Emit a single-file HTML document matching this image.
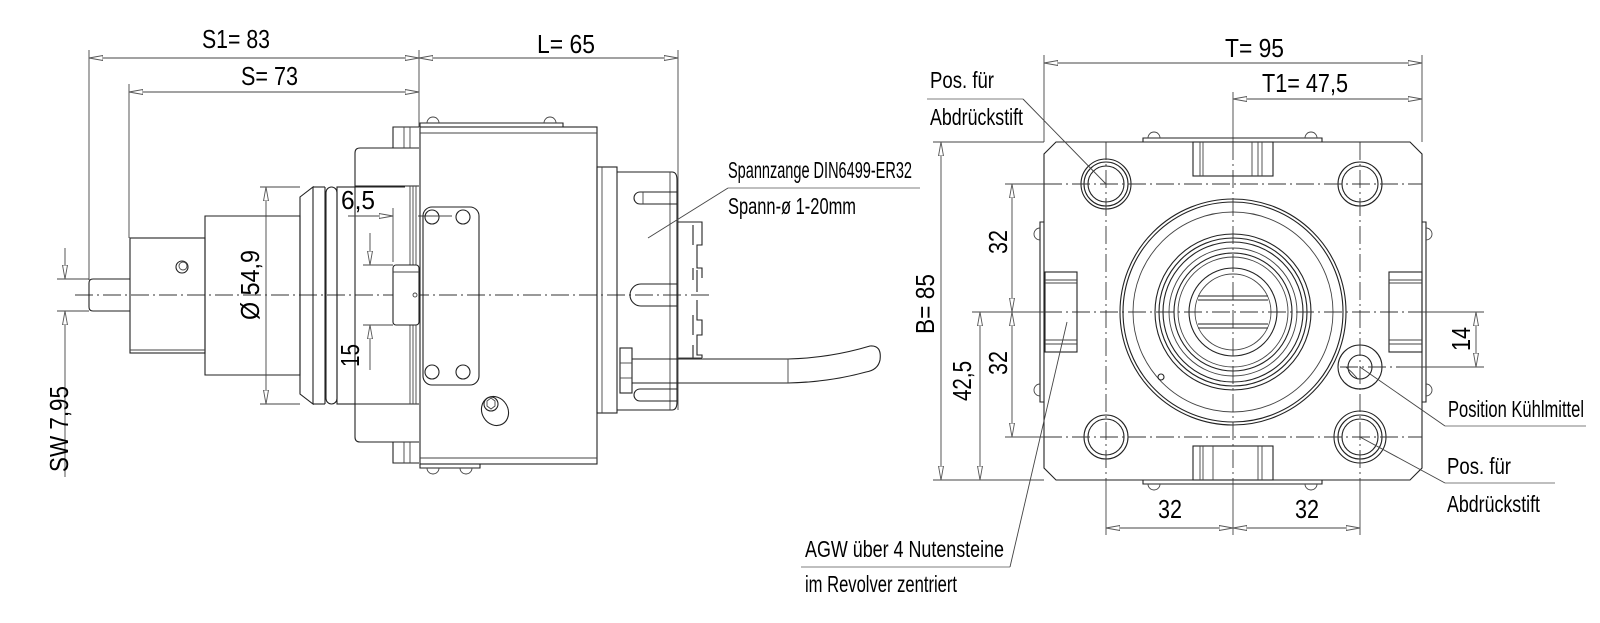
<!DOCTYPE html>
<html><head><meta charset="utf-8"><style>
html,body{margin:0;padding:0;background:#fff;}
svg{display:block;}
text{font-family:"Liberation Sans",Arial,sans-serif;fill:#000;}
.l{fill:none;stroke:#222;stroke-width:1.1;}
.t{fill:none;stroke:#444;stroke-width:0.9;}
.d{fill:none;stroke:#444;stroke-width:0.9;marker-start:url(#ar);marker-end:url(#ar);}
.c{fill:none;stroke:#333;stroke-width:0.9;stroke-dasharray:18 4 2 4;}
.u{fill:none;stroke:#999;stroke-width:1.3;}
</style></head><body>
<svg width="1600" height="623" viewBox="0 0 1600 623" xmlns="http://www.w3.org/2000/svg">
<defs>
<marker id="ar" viewBox="0 0 14 6" refX="14" refY="3" markerWidth="14" markerHeight="6" markerUnits="userSpaceOnUse" orient="auto-start-reverse">
<path d="M0,0.5 L14,3 L0,5.5 Z" fill="#fff" stroke="#555" stroke-width="0.9"/>
</marker>
</defs>

<!-- ================= LEFT VIEW ================= -->
<line class="t" x1="89" y1="50" x2="89" y2="280"/>
<line class="t" x1="129" y1="84" x2="129" y2="238"/>
<line class="t" x1="419" y1="50" x2="419" y2="127"/>
<line class="t" x1="678" y1="50" x2="678" y2="410"/>
<line class="d" x1="89" y1="58" x2="419" y2="58"/>
<line class="d" x1="129" y1="92" x2="419" y2="92"/>
<line class="d" x1="419" y1="58" x2="678" y2="58"/>
<text x="202" y="48" font-size="26" textLength="68" lengthAdjust="spacingAndGlyphs">S1= 83</text>
<text x="241" y="85" font-size="26" textLength="57" lengthAdjust="spacingAndGlyphs">S= 73</text>
<text x="537" y="53" font-size="26" textLength="58" lengthAdjust="spacingAndGlyphs">L= 65</text>

<line class="t" x1="57" y1="279" x2="89" y2="279"/>
<line class="t" x1="57" y1="311" x2="89" y2="311"/>
<line class="t" x1="65" y1="248" x2="65" y2="279" marker-end="url(#ar)"/>
<line class="t" x1="65" y1="477" x2="65" y2="311" marker-end="url(#ar)"/>
<text transform="translate(68,472) rotate(-90)" font-size="26" textLength="86" lengthAdjust="spacingAndGlyphs">SW 7,95</text>

<line class="c" x1="75" y1="295" x2="710" y2="295"/>

<path class="l" d="M130,279 H93 Q89,279 89,283 V307 Q89,311 93,311 H130"/>
<rect class="l" x="130" y="238" width="75" height="115"/>
<path class="l" d="M205,216 H300 V375 H205 Z"/>
<line class="t" x1="130" y1="350" x2="205" y2="350"/>
<circle class="l" cx="182" cy="267" r="6"/>
<circle class="t" cx="183" cy="266" r="4"/>

<path class="l" d="M300,197 L313,187 V404 L300,394 Z"/>
<line class="l" x1="313" y1="187" x2="325" y2="187"/>
<line class="l" x1="313" y1="404" x2="325" y2="404"/>
<line class="l" x1="325" y1="187" x2="325" y2="404"/>
<rect class="l" x="326" y="187" width="11" height="217" rx="5.5"/>
<rect class="l" x="337" y="187" width="18" height="217"/>
<line class="l" x1="355" y1="187" x2="405" y2="187"/>
<line class="l" x1="355" y1="404" x2="405" y2="404"/>
<path class="l" d="M419,148 H360 Q355,148 355,153 V186 H419"/>
<path class="l" d="M419,442 H360 Q355,442 355,437 V404 H419"/>
<path class="l" d="M419,127 H393 V148"/>
<path class="l" d="M419,463 H393 V442"/>
<line class="t" x1="404" y1="127" x2="404" y2="148"/>
<line class="t" x1="410" y1="127" x2="410" y2="148"/>
<line class="t" x1="404" y1="442" x2="404" y2="463"/>
<line class="t" x1="410" y1="442" x2="410" y2="463"/>
<line class="t" x1="410" y1="186" x2="410" y2="404"/>
<line class="t" x1="413" y1="186" x2="413" y2="404"/>
<line class="t" x1="416" y1="186" x2="416" y2="404"/>
<rect class="l" x="393" y="265" width="26" height="60" rx="3" style="fill:#fff"/>
<line class="t" x1="393" y1="272" x2="419" y2="272"/>
<circle class="t" cx="415" cy="295" r="2"/>

<line class="t" x1="260" y1="187" x2="300" y2="187"/>
<line class="t" x1="260" y1="404" x2="300" y2="404"/>
<line class="d" x1="266" y1="187" x2="266" y2="404"/>
<text transform="translate(259,320) rotate(-90)" font-size="26" textLength="70" lengthAdjust="spacingAndGlyphs">Ø 54,9</text>

<line class="t" x1="348" y1="216" x2="393" y2="216" marker-end="url(#ar)"/>
<line class="t" x1="418" y1="216" x2="442" y2="216"/>
<line class="t" x1="393" y1="208" x2="393" y2="262"/>
<text x="341" y="209" font-size="26" textLength="34" lengthAdjust="spacingAndGlyphs">6,5</text>
<line class="t" x1="363" y1="265" x2="393" y2="265"/>
<line class="t" x1="363" y1="325" x2="393" y2="325"/>
<line class="t" x1="370" y1="233" x2="370" y2="265" marker-end="url(#ar)"/>
<line class="t" x1="370" y1="370" x2="370" y2="325" marker-end="url(#ar)"/>
<text transform="translate(359,367) rotate(-90)" font-size="26" textLength="23" lengthAdjust="spacingAndGlyphs">15</text>

<rect class="l" x="420" y="127" width="177" height="337"/>
<line class="t" x1="420" y1="133" x2="597" y2="133"/>
<line class="t" x1="420" y1="458" x2="597" y2="458"/>
<path class="l" d="M420,127 V123 H563 V127"/>
<path class="t" d="M427,123 A6,6 0 0 1 439,123 M544,123 A6,6 0 0 1 556,123"/>
<path class="l" d="M420,464 V468 H480 V464"/>
<path class="t" d="M427,468 A6,6 0 0 0 439,468 M460,468 A6,6 0 0 0 472,468"/>
<rect class="l" x="423" y="207" width="56" height="178" rx="9"/>
<circle class="l" cx="432" cy="217" r="7"/>
<circle class="l" cx="463" cy="217" r="7"/>
<circle class="l" cx="432" cy="372" r="7"/>
<circle class="l" cx="463" cy="372" r="7"/>
<line class="t" x1="427" y1="216" x2="452" y2="216"/>
<ellipse class="l" cx="495" cy="411" rx="13" ry="15" transform="rotate(-30 495 411)"/>
<circle class="l" cx="491" cy="404" r="7"/>
<path class="t" d="M487,401 L491,398 L495,401 L495,406 L491,409 L487,406 Z"/>

<rect class="l" x="597" y="167" width="20" height="246"/>
<line class="t" x1="602" y1="167" x2="602" y2="413"/>
<path class="l" d="M617,172 H672 Q677,172 677,180 V402 Q677,410 672,410 H617"/>
<line class="t" x1="670" y1="172" x2="670" y2="410"/>
<path class="l" d="M677,192 H640 A6,6 0 0 0 640,204 H677"/>
<path class="l" d="M677,284 H641 A11,11 0 0 0 641,306 H677"/>
<path class="l" d="M677,389 H640 A6,6 0 0 0 640,401 H677"/>
<line class="t" x1="643" y1="192" x2="643" y2="204"/>
<path class="l" d="M678,222 H702 V245 H697 V268 H702 V278 M697,270 V292 M697,300 V320 H702 V335 H697 V355 H702 V358"/>
<path class="l" d="M693,225 V245 M693,268 V280 M693,315 V335 M693,345 V358"/>
<line class="t" x1="678" y1="358" x2="702" y2="358"/>
<rect class="l" x="620" y="348" width="12" height="45"/>
<line class="t" x1="620" y1="363" x2="632" y2="363"/>
<line class="t" x1="620" y1="378" x2="632" y2="378"/>
<path class="l" d="M632,359 H788 Q830,358 870,346 Q882,345 880,360 Q878,370 866,372 Q830,382 788,383 H632"/>
<line class="t" x1="788" y1="359" x2="788" y2="383"/>

<text x="728" y="178" font-size="23" textLength="184" lengthAdjust="spacingAndGlyphs">Spannzange DIN6499-ER32</text>
<line class="u" x1="728" y1="188" x2="920" y2="188"/>
<text x="728" y="214" font-size="23" textLength="128" lengthAdjust="spacingAndGlyphs">Spann-ø 1-20mm</text>
<line class="t" x1="728" y1="188" x2="648" y2="238"/>

<!-- ================= RIGHT VIEW ================= -->
<line class="t" x1="1044" y1="55" x2="1044" y2="142"/>
<line class="t" x1="1422" y1="55" x2="1422" y2="142"/>
<line class="d" x1="1044" y1="63" x2="1422" y2="63"/>
<text x="1225" y="57" font-size="26" textLength="59" lengthAdjust="spacingAndGlyphs">T= 95</text>
<line class="t" x1="1233" y1="92" x2="1233" y2="142"/>
<line class="d" x1="1233" y1="99" x2="1422" y2="99"/>
<text x="1262" y="92" font-size="26" textLength="86" lengthAdjust="spacingAndGlyphs">T1= 47,5</text>

<path class="l" d="M1056,142 H1410 L1422,154 V468 L1410,480 H1056 L1044,468 V154 Z"/>
<path class="l" d="M1143,142 V138 H1322 V142"/>
<path class="t" d="M1148,138 A6,6 0 0 1 1160,138 M1305,138 A6,6 0 0 1 1317,138"/>
<path class="l" d="M1143,480 V484 H1322 V480"/>
<path class="t" d="M1148,484 A6,6 0 0 0 1160,484 M1305,484 A6,6 0 0 0 1317,484"/>
<path class="l" d="M1044,222 H1040 V402 H1044"/>
<path class="t" d="M1040,228 A6,6 0 0 0 1040,240 M1040,384 A6,6 0 0 0 1040,396"/>
<path class="l" d="M1422,222 H1426 V402 H1422"/>
<path class="t" d="M1426,228 A6,6 0 0 1 1426,240 M1426,384 A6,6 0 0 1 1426,396"/>
<rect class="l" x="1193" y="142" width="80" height="34"/>
<path class="t" d="M1200,142 V176 M1203,142 V176 M1252,142 V176 M1258,142 V176 M1262,142 V176"/>
<rect class="l" x="1193" y="446" width="80" height="34"/>
<path class="t" d="M1200,446 V480 M1203,446 V480 M1213,446 V480 M1258,446 V480 M1262,446 V480"/>
<rect class="l" x="1045" y="272" width="32" height="80"/>
<path class="t" d="M1045,280 H1077 M1045,283 H1077 M1045,340 H1077 M1045,344 H1077"/>
<rect class="l" x="1389" y="272" width="33" height="80"/>
<path class="t" d="M1389,280 H1422 M1389,283 H1422 M1389,340 H1422 M1389,344 H1422"/>

<circle class="l" cx="1233" cy="312" r="113"/>
<circle class="l" cx="1233" cy="312" r="110"/>
<circle class="t" cx="1233" cy="312" r="100"/>
<circle class="l" cx="1233" cy="312" r="78"/>
<circle class="l" cx="1233" cy="312" r="74"/>
<circle class="l" cx="1233" cy="312" r="70"/>
<circle class="t" cx="1233" cy="312" r="64"/>
<circle class="l" cx="1233" cy="312" r="59"/>
<circle class="t" cx="1233" cy="312" r="55"/>
<circle class="l" cx="1233" cy="312" r="44"/>
<circle class="t" cx="1233" cy="312" r="38"/>
<path class="l" d="M1198,296 H1268 M1198,300 H1268 M1198,324 H1268 M1198,328 H1268"/>
<circle class="l" cx="1161" cy="377" r="3"/>

<circle class="l" cx="1106" cy="184" r="25"/><circle class="l" cx="1106" cy="184" r="22"/><circle class="l" cx="1106" cy="184" r="18"/>
<circle class="l" cx="1360" cy="184" r="22"/><circle class="l" cx="1360" cy="184" r="18"/>
<circle class="l" cx="1106" cy="437" r="22"/><circle class="l" cx="1106" cy="437" r="18"/>
<circle class="l" cx="1360" cy="437" r="26"/><circle class="l" cx="1360" cy="437" r="22"/><circle class="l" cx="1360" cy="437" r="18"/>
<circle class="l" cx="1360" cy="367" r="22"/>
<circle class="l" cx="1360" cy="367" r="12"/>
<path class="t" d="M1346,367 Q1352,372 1357,378"/>

<line class="c" x1="1044" y1="184" x2="1422" y2="184"/>
<line class="c" x1="1044" y1="312" x2="1422" y2="312"/>
<line class="c" x1="1044" y1="437" x2="1422" y2="437"/>
<line class="c" x1="1106" y1="142" x2="1106" y2="480"/>
<line class="c" x1="1233" y1="142" x2="1233" y2="480"/>
<line class="c" x1="1360" y1="142" x2="1360" y2="480"/>
<line class="c" x1="1340" y1="367" x2="1422" y2="367"/>

<line class="t" x1="933" y1="142" x2="1044" y2="142"/>
<line class="t" x1="933" y1="480" x2="1044" y2="480"/>
<line class="t" x1="972" y1="312" x2="1044" y2="312"/>
<line class="t" x1="1005" y1="184" x2="1044" y2="184"/>
<line class="t" x1="1005" y1="437" x2="1044" y2="437"/>
<line class="d" x1="941" y1="142" x2="941" y2="480"/>
<line class="d" x1="980" y1="312" x2="980" y2="480"/>
<line class="d" x1="1012" y1="184" x2="1012" y2="312"/>
<line class="d" x1="1012" y1="312" x2="1012" y2="437"/>
<text transform="translate(934,334) rotate(-90)" font-size="26" textLength="60" lengthAdjust="spacingAndGlyphs">B= 85</text>
<text transform="translate(971,401) rotate(-90)" font-size="26" textLength="40" lengthAdjust="spacingAndGlyphs">42,5</text>
<text transform="translate(1007,254) rotate(-90)" font-size="26" textLength="24" lengthAdjust="spacingAndGlyphs">32</text>
<text transform="translate(1007,375) rotate(-90)" font-size="26" textLength="24" lengthAdjust="spacingAndGlyphs">32</text>

<line class="t" x1="1106" y1="480" x2="1106" y2="535"/>
<line class="t" x1="1233" y1="480" x2="1233" y2="535"/>
<line class="t" x1="1360" y1="480" x2="1360" y2="535"/>
<line class="d" x1="1106" y1="528" x2="1233" y2="528"/>
<line class="d" x1="1233" y1="528" x2="1360" y2="528"/>
<text x="1158" y="518" font-size="26" textLength="24" lengthAdjust="spacingAndGlyphs">32</text>
<text x="1295" y="518" font-size="26" textLength="24" lengthAdjust="spacingAndGlyphs">32</text>

<line class="t" x1="1422" y1="312" x2="1484" y2="312"/>
<line class="t" x1="1400" y1="367" x2="1484" y2="367"/>
<line class="d" x1="1476" y1="312" x2="1476" y2="367"/>
<text transform="translate(1470,351) rotate(-90)" font-size="26" textLength="24" lengthAdjust="spacingAndGlyphs">14</text>

<text x="930" y="88" font-size="23" textLength="64" lengthAdjust="spacingAndGlyphs">Pos. für</text>
<line class="u" x1="927" y1="99" x2="1023" y2="99"/>
<text x="930" y="125" font-size="23" textLength="93" lengthAdjust="spacingAndGlyphs">Abdrückstift</text>
<line class="t" x1="1023" y1="99" x2="1106" y2="184"/>

<text x="1448" y="417" font-size="23" textLength="136" lengthAdjust="spacingAndGlyphs">Position Kühlmittel</text>
<line class="u" x1="1445" y1="426" x2="1586" y2="426"/>
<line class="t" x1="1445" y1="426" x2="1360" y2="367"/>

<text x="1447" y="474" font-size="23" textLength="64" lengthAdjust="spacingAndGlyphs">Pos. für</text>
<line class="u" x1="1445" y1="483" x2="1555" y2="483"/>
<text x="1447" y="512" font-size="23" textLength="93" lengthAdjust="spacingAndGlyphs">Abdrückstift</text>
<line class="t" x1="1445" y1="483" x2="1360" y2="437"/>

<text x="805" y="557" font-size="23" textLength="199" lengthAdjust="spacingAndGlyphs">AGW über 4 Nutensteine</text>
<line class="u" x1="801" y1="567" x2="1010" y2="567"/>
<text x="805" y="592" font-size="23" textLength="152" lengthAdjust="spacingAndGlyphs">im Revolver zentriert</text>
<line class="t" x1="1010" y1="567" x2="1067" y2="322"/>
</svg>
</body></html>
